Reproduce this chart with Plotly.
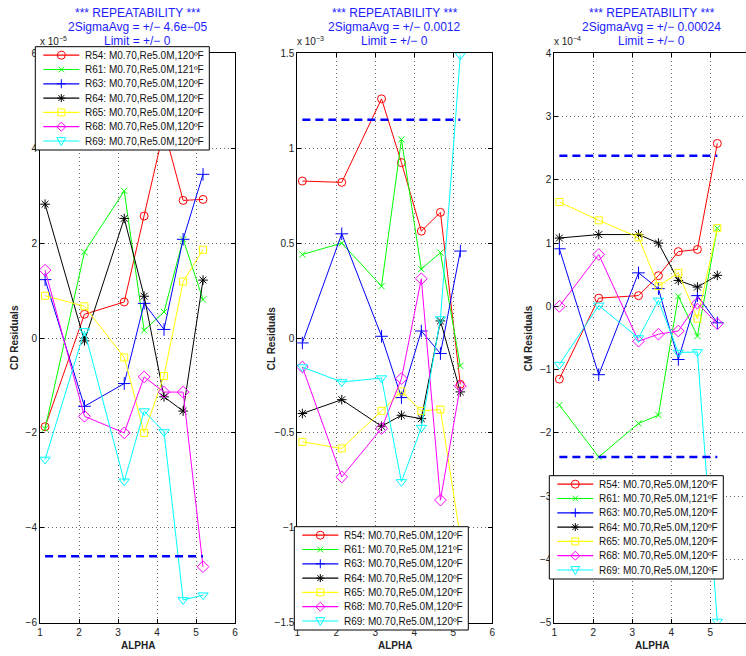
import numpy as np
import plotly.graph_objects as go

# ---------------- data ----------------
alpha = [1.13, 2.14, 3.16, 3.67, 4.18, 4.67, 5.18]

runs = ["R54: M0.70,Re5.0M,120ºF", "R61: M0.70,Re5.0M,121ºF", "R63: M0.70,Re5.0M,120ºF",
        "R64: M0.70,Re5.0M,120ºF", "R65: M0.70,Re5.0M,120ºF", "R68: M0.70,Re5.0M,120ºF",
        "R69: M0.70,Re5.0M,120ºF"]

# CD residuals (x 1e-5)
cd_r54 = [-1.87, 0.50, 0.76, 2.57, 4.40, 2.90, 2.92]
cd_r61 = [-1.91, 1.81, 3.10, 0.16, 0.55, 2.08, 0.81]
cd_r63 = [1.23, -1.44, -0.96, 0.73, 0.18, 2.08, 3.45]
cd_r64 = [2.82, -0.06, 2.52, 0.88, -1.24, -1.54, 1.22]
cd_r65 = [0.89, 0.67, -0.41, -2.00, -0.80, 1.19, 1.86]
cd_r68 = [1.43, -1.65, -2.00, -0.82, -1.14, -1.14, -4.82]
cd_r69 = [-2.56, 0.15, -3.02, -1.54, -1.98, -5.52, -5.42]

# CL residuals (x 1e-3)
cl_r54 = [0.827, 0.820, 1.260, 0.924, 0.563, 0.662, -0.244]
cl_r61 = [0.440, 0.500, 0.273, 1.046, 0.363, 0.450, -0.147]
cl_r63 = [-0.026, 0.549, 0.009, -0.314, 0.037, -0.082, 0.458]
cl_r64 = [-0.398, -0.325, -0.465, -0.407, -0.425, 0.090, -0.284]
cl_r65 = [-0.547, -0.582, -0.384, -0.281, -0.384, -0.377, -1.050]
cl_r68 = [-0.153, -0.732, -0.477, -0.214, 0.312, -0.854, -0.254]
cl_r69 = [-0.153, -0.232, -0.211, -0.758, -0.472, 0.100, 1.490]

# CM residuals (x 1e-4)
cm_r54 = [-1.15, 0.13, 0.17, 0.485, 0.865, 0.90, 2.575]
cm_r61 = [-1.56, -2.38, -1.85, -1.72, 0.16, -0.47, 1.235]
cm_r63 = [0.91, -1.08, 0.53, 0.28, -0.84, 0.17, -0.26]
cm_r64 = [1.08, 1.135, 1.135, 1.00, 0.41, 0.305, 0.49]
cm_r65 = [1.65, 1.36, 1.09, 0.32, 0.53, -0.195, 1.235]
cm_r68 = [0.00, 0.82, -0.55, -0.44, -0.39, 0.05, -0.275]
cm_r69 = [-0.92, 0.015, -0.50, 0.095, -0.73, -0.72, -4.98]

# 2-sigma average limits
two_sigma = [4.6e-05, 0.00115, 0.000238]
two_sigma_text = ["4.6e−05", "0.0012", "0.00024"]

coef_names = ["CD", "CL", "CM"]
exponents = [-5, -3, -4]
yranges = [(-6, 6), (-1.5, 1.5), (-5, 4)]
ytick_vals = [[-6, -4, -2, 0, 2, 4, 6],
              [-1.5, -1, -0.5, 0, 0.5, 1, 1.5],
              [-5, -4, -3, -2, -1, 0, 1, 2, 3, 4]]
xtick_vals = [1, 2, 3, 4, 5, 6]

# ---------------- style ----------------
colors = ["#ff0000", "#00ff00", "#0000ff", "#000000", "#ffff00", "#ff00ff", "#00ffff"]
symbols = ["circle-open", "x-thin-open", "cross-thin-open", "asterisk-open",
           "square-open", "diamond-open", "triangle-down-open"]
glyphs = ["circle", "x", "plus", "asterisk", "square", "diamond", "tridown"]
msizes = [8, 6, 9, 8, 7, 9, 9]
FONT = "Liberation Sans, Arial, Helvetica, sans-serif"
GRID = dict(showgrid=True, gridcolor="rgba(0,0,0,0.6)", griddash="1px,3px", gridwidth=1)

W, H = 746, 656
panel_left_px = [40.0, 297.3, 554.3]
px_per_unit = 39.0
top_px, bot_px = 53.3, 622.7
# legend box (left, top) in pixels for each panel
legend_box_px = [(35.3, 46.7), (294.3, 526.7), (549.3, 475.7)]
LEG_W, LEG_H, LEG_ROW = 174.0, 103.3, 14.3

series = [
    [cd_r54, cd_r61, cd_r63, cd_r64, cd_r65, cd_r68, cd_r69],
    [cl_r54, cl_r61, cl_r63, cl_r64, cl_r65, cl_r68, cl_r69],
    [cm_r54, cm_r61, cm_r63, cm_r64, cm_r65, cm_r68, cm_r69],
]

fig = go.Figure()

for p in range(3):
    scale = 10.0 ** exponents[p]
    xa = "x" if p == 0 else f"x{p+1}"
    ya = "y" if p == 0 else f"y{p+1}"
    for i in range(7):
        fig.add_trace(go.Scatter(
            x=alpha, y=np.array(series[p][i]) * scale, xaxis=xa, yaxis=ya,
            mode="lines+markers", name=runs[i], showlegend=False,
            line=dict(color=colors[i], width=1),
            marker=dict(symbol=symbols[i], size=msizes[i], color=colors[i],
                        line=dict(color=colors[i], width=1)),
        ))
    for sgn in (1, -1):
        fig.add_trace(go.Scatter(
            x=[alpha[0], alpha[-1]], y=[sgn * two_sigma[p]] * 2, xaxis=xa, yaxis=ya,
            mode="lines", showlegend=False, hoverinfo="skip",
            line=dict(color="#0000ff", width=2.5, dash="8px,5px"),
        ))

ydom = [1 - bot_px / H, 1 - top_px / H]
layout = dict(
    width=W, height=H, margin=dict(l=0, r=0, t=0, b=0, autoexpand=False),
    paper_bgcolor="white", plot_bgcolor="white",
    font=dict(family=FONT, size=10, color="#222222"),
    showlegend=False,
)

for p in range(3):
    scale = 10.0 ** exponents[p]
    left = panel_left_px[p]
    right = left + 5 * px_per_unit
    xmax = 6.0
    if right > W:
        xmax = 1 + (W - left) / px_per_unit
        right = W
    sfx = "" if p == 0 else str(p + 1)
    tv = [v * scale for v in ytick_vals[p]]
    tt = [(("%g" % v).replace("-", "−")) for v in ytick_vals[p]]
    layout["xaxis" + sfx] = dict(
        domain=[left / W, right / W], range=[1, xmax], anchor="y" + sfx,
        tickvals=xtick_vals, ticktext=[str(v) for v in xtick_vals],
        showline=True, linecolor="black", linewidth=1, mirror="allticks",
        ticks="inside", ticklen=4, tickcolor="black",
        zeroline=False, tickfont=dict(size=10, family=FONT, color="#222222"), **GRID,
    )
    layout["yaxis" + sfx] = dict(
        domain=ydom, range=[yranges[p][0] * scale, yranges[p][1] * scale], anchor="x" + sfx,
        tickvals=tv, ticktext=tt,
        showline=True, linecolor="black", linewidth=1,
        mirror=("allticks" if p < 2 else False),
        ticks="inside", ticklen=4, tickcolor="black",
        zeroline=False, tickfont=dict(size=10, family=FONT, color="#222222"), **GRID,
    )


# ---------- legend boxes (MATLAB-style compact legends) ----------
def PX(x):
    return x / W


def PY(y):
    return 1 - y / H


def glyph_shape(kind, cx, cy, color):
    line = dict(color=color, width=1)
    if kind == "circle":
        r = 4.0
        return dict(type="circle", xref="paper", yref="paper", x0=PX(cx - r), x1=PX(cx + r),
                    y0=PY(cy + r), y1=PY(cy - r), line=line, fillcolor="rgba(0,0,0,0)")
    if kind == "square":
        r = 3.5
        return dict(type="rect", xref="paper", yref="paper", x0=PX(cx - r), x1=PX(cx + r),
                    y0=PY(cy + r), y1=PY(cy - r), line=line, fillcolor="rgba(0,0,0,0)")
    pts = []
    if kind == "x":
        r = 2.8
        pts = [[(-r, -r), (r, r)], [(-r, r), (r, -r)]]
    elif kind == "plus":
        r = 4.5
        pts = [[(-r, 0), (r, 0)], [(0, -r), (0, r)]]
    elif kind == "asterisk":
        r, d = 4.0, 2.9
        pts = [[(-r, 0), (r, 0)], [(0, -r), (0, r)], [(-d, -d), (d, d)], [(-d, d), (d, -d)]]
    elif kind == "diamond":
        r = 4.5
        pts = [[(0, -r), (r, 0), (0, r), (-r, 0), (0, -r)]]
    elif kind == "tridown":
        r = 4.5
        pts = [[(-r, -r * 0.75), (r, -r * 0.75), (0, r), (-r, -r * 0.75)]]
    path = ""
    for seg in pts:
        for k, (dx, dy) in enumerate(seg):
            path += ("M" if k == 0 else "L") + f"{PX(cx + dx):.5f},{PY(cy + dy):.5f} "
    return dict(type="path", xref="paper", yref="paper", path=path.strip(), line=line)


shapes = []
annotations = []
for p in range(3):
    bx, by = legend_box_px[p]
    shapes.append(dict(type="rect", xref="paper", yref="paper", x0=PX(bx), x1=PX(bx + LEG_W),
                       y0=PY(by + LEG_H), y1=PY(by), line=dict(color="black", width=1),
                       fillcolor="white", layer="above"))
    for i in range(7):
        ry = by + 8.5 + LEG_ROW * i
        shapes.append(dict(type="line", xref="paper", yref="paper", x0=PX(bx + 8), x1=PX(bx + 44),
                           y0=PY(ry), y1=PY(ry), line=dict(color=colors[i], width=1.2)))
        shapes.append(glyph_shape(glyphs[i], bx + 26, ry, colors[i]))
        annotations.append(dict(text=runs[i], x=PX(bx + 47.5), y=PY(ry), xref="paper", yref="paper",
                                xanchor="left", yanchor="middle", showarrow=False,
                                font=dict(family=FONT, size=10, color="#111111")))

for p in range(3):
    left = panel_left_px[p]
    cx = (left + 2.5 * px_per_unit) / W
    lines = ["*** REPEATABILITY ***", f"2SigmaAvg = +/− {two_sigma_text[p]}", "Limit = +/− 0"]
    for k, t in enumerate(lines):
        annotations.append(dict(text=t, x=cx, y=1 - (13 + 14 * k) / H, xref="paper", yref="paper",
                                xanchor="center", yanchor="middle", showarrow=False,
                                font=dict(family=FONT, size=12, color="#1c1cff")))
    annotations.append(dict(text=f"x 10<sup>{str(exponents[p]).replace('-', '−')}</sup>",
                            x=(left - 2) / W, y=1 - 49 / H, xref="paper", yref="paper",
                            xanchor="left", yanchor="bottom", showarrow=False,
                            font=dict(family=FONT, size=10, color="#222222")))
    annotations.append(dict(text=f"<b>{coef_names[p]} Residuals</b>", textangle=-90,
                            x=(left - 26) / W, y=1 - ((top_px + bot_px) / 2) / H,
                            xref="paper", yref="paper", xanchor="center", yanchor="middle",
                            showarrow=False, font=dict(family=FONT, size=10, color="#222222")))
    annotations.append(dict(text="<b>ALPHA</b>", x=cx, y=1 - 645 / H, xref="paper", yref="paper",
                            xanchor="center", yanchor="middle", showarrow=False,
                            font=dict(family=FONT, size=10, color="#222222")))
layout["annotations"] = annotations
layout["shapes"] = shapes

fig.update_layout(**layout)
fig.write_html("out.html", config={"displayModeBar": False},
               post_script="document.body.style.margin='0';document.body.style.overflow='hidden';")
